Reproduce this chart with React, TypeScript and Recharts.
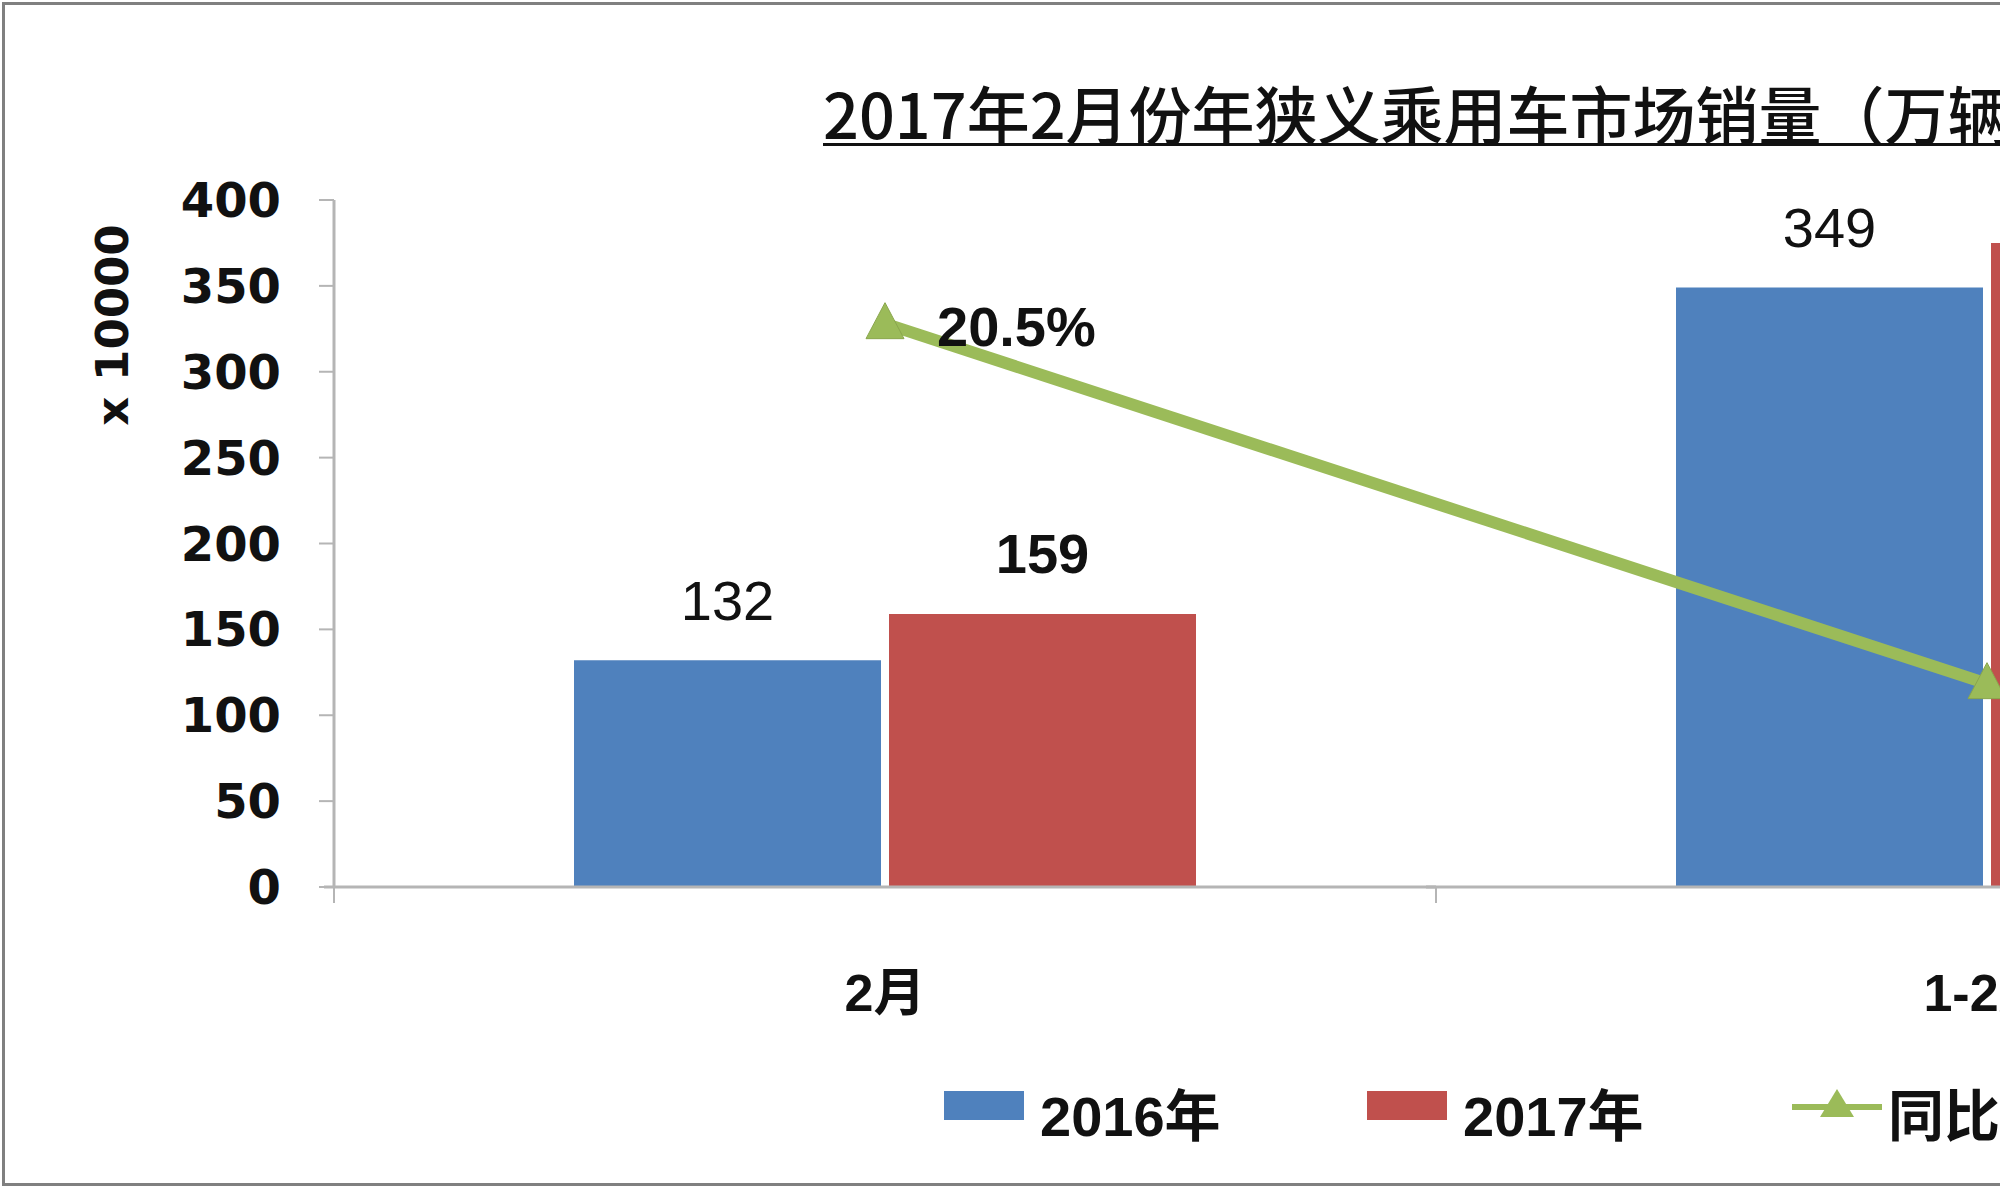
import React from 'react';
import { ComposedChart, Bar, Line, XAxis, YAxis, Legend, LabelList, Label } from 'recharts';

const categories = ['2月', '1-2月'];
const sales2016 = [132, 349];
const sales2017 = [159, 375];
const yoyGrowth = [20.5, 7.4];
const yTicks = [0, 50, 100, 150, 200, 250, 300, 350, 400];
const seriesNames = ['2016年', '2017年', '同比'];
const titleText = '2017年2月份年狭义乘用车市场销量（万辆）';
const yAxisTitle = 'x 10000';

const BLUE = '#4F81BD';
const RED = '#C0504D';
const GREEN = '#9BBB59';
const AXIS = '#b5b5b5';

const data = categories.map((c, i) => ({
  name: c,
  s2016: sales2016[i],
  s2017: sales2017[i],
  yoy: yoyGrowth[i],
}));

const LABEL_FONT = "'Liberation Sans', Arial, sans-serif";
const TICK_FONT = "'DejaVu Sans', Verdana, sans-serif";
const CJK_BOLD = "'Liberation Sans Narrow', 'Liberation Sans', 'Noto Sans CJK SC', sans-serif";

const pick = (props: any) => {
  const vb = props.viewBox || {};
  return {
    x: props.x ?? vb.x,
    y: props.y ?? vb.y,
    w: props.width ?? vb.width ?? 0,
  };
};

const makeBarLabel = (bold: boolean) => (props: any) => {
  const { x, y, w } = pick(props);
  if (x == null || y == null) return null;
  return (
    <text
      x={x + w / 2}
      y={y - 60}
      textAnchor="middle"
      dominantBaseline="central"
      fontFamily={LABEL_FONT}
      fontSize={56}
      fontWeight={bold ? 700 : 400}
      fill="#111"
    >
      {props.value}
    </text>
  );
};

const lineLabel = (props: any) => {
  const { x, y } = pick(props);
  if (x == null || y == null) return null;
  return (
    <text
      x={x + 52}
      y={y + 3}
      textAnchor="start"
      dominantBaseline="central"
      fontFamily={LABEL_FONT}
      fontSize={56}
      fontWeight={700}
      fill="#111"
    >
      {`${props.value}%`}
    </text>
  );
};

const TriangleDot = (props: any) => {
  const { cx, cy } = props;
  if (cx == null || cy == null) return null;
  return (
    <path
      d={`M${cx},${cy - 21} L${cx + 19},${cy + 15} L${cx - 19},${cy + 15} Z`}
      fill={GREEN}
      stroke="#8aa64d"
      strokeWidth={1}
    />
  );
};

const XTick = (props: any) => {
  const { x, y, payload } = props;
  const off = payload && payload.offset ? payload.offset : 0;
  return (
    <g>
      {off ? (
        <g>
          <line x1={x - off} x2={x - off} y1={y} y2={y + 16} stroke={AXIS} strokeWidth={2} />
          <line x1={x + off} x2={x + off} y1={y} y2={y + 16} stroke={AXIS} strokeWidth={2} />
          <line x1={x - off - 10} x2={x - off} y1={y} y2={y} stroke={AXIS} strokeWidth={3} />
        </g>
      ) : null}
      <text
        x={x}
        y={y + 106}
        textAnchor="middle"
        dominantBaseline="central"
        fontFamily={CJK_BOLD}
        fontSize={52}
        fontWeight={700}
        fill="#111"
      >
        {payload.value}
      </text>
    </g>
  );
};

const renderYTitle = (props: any) => {
  const vb = props.viewBox || { x: 0, y: 0 };
  const cx = vb.x + 112;
  const cy = vb.y + 125;
  return (
    <text
      x={cx}
      y={cy}
      transform={`rotate(-90 ${cx} ${cy})`}
      textAnchor="middle"
      dominantBaseline="central"
      fontFamily={TICK_FONT}
      fontSize={45}
      fontWeight={700}
      fill="#111"
    >
      {yAxisTitle}
    </text>
  );
};

const legendTextStyle: React.CSSProperties = {
  position: 'absolute',
  top: 12,
  fontFamily: CJK_BOLD,
  fontSize: 56,
  fontWeight: 700,
  lineHeight: '50px',
  color: '#111',
  whiteSpace: 'nowrap',
};

const renderLegend = () => (
  <div style={{ position: 'relative', width: 1100, height: 70 }}>
    <div style={{ position: 'absolute', left: 0, top: 11, width: 80, height: 29, background: BLUE }} />
    <div style={{ ...legendTextStyle, left: 96 }}>{seriesNames[0]}</div>
    <div style={{ position: 'absolute', left: 423, top: 11, width: 80, height: 29, background: RED }} />
    <div style={{ ...legendTextStyle, left: 519 }}>{seriesNames[1]}</div>
    <svg style={{ position: 'absolute', left: 848, top: 0 }} width={90} height={60}>
      <line x1={0} x2={90} y1={27} y2={27} stroke={GREEN} strokeWidth={6} />
      <path d="M45,9 L62,37 L28,37 Z" fill={GREEN} />
    </svg>
    <div style={{ ...legendTextStyle, left: 944 }}>{seriesNames[2]}</div>
  </div>
);

export default function App() {
  return (
    <div
      style={{
        position: 'absolute',
        left: 0,
        top: 0,
        width: 2000,
        height: 1190,
        overflow: 'hidden',
        background: '#fff',
      }}
    >
      <div
        style={{
          position: 'absolute',
          left: 823,
          top: 80,
          fontFamily: "'Noto Sans CJK SC', sans-serif",
          fontSize: 63,
          fontWeight: 500,
          lineHeight: '63px',
          color: '#111',
          whiteSpace: 'nowrap',
          textDecoration: 'underline',
          textDecorationThickness: '3px',
          textUnderlineOffset: '4px',
          zIndex: 2,
        }}
      >
        {titleText}
      </div>
      <ComposedChart
        width={2700}
        height={1190}
        data={data}
        margin={{ top: 200, right: 162, bottom: 203, left: 0 }}
        barCategoryGap={240}
        barGap={8}
      >
        <XAxis
          dataKey="name"
          xAxisId="x"
          height={100}
          axisLine={{ stroke: AXIS, strokeWidth: 3 }}
          tickLine={false}
          tickSize={0}
          tickMargin={0}
          tick={<XTick />}
          interval={0}
        />
        <YAxis
          yAxisId="left"
          width={334}
          domain={[0, 400]}
          ticks={yTicks}
          interval={0}
          axisLine={{ stroke: AXIS, strokeWidth: 3 }}
          tickLine={{ stroke: AXIS, strokeWidth: 2 }}
          tickSize={15}
          tickMargin={38}
          tick={{ fontFamily: TICK_FONT, fontSize: 48, fontWeight: 700, fill: '#111' }}
        >
          <Label content={renderYTitle} />
        </YAxis>
        <YAxis yAxisId="right" orientation="right" hide domain={[0, 25]} />
        <Bar dataKey="s2016" name={seriesNames[0]} xAxisId="x" yAxisId="left" fill={BLUE} isAnimationActive={false}>
          <LabelList dataKey="s2016" content={makeBarLabel(false)} />
        </Bar>
        <Bar dataKey="s2017" name={seriesNames[1]} xAxisId="x" yAxisId="left" fill={RED} isAnimationActive={false}>
          <LabelList dataKey="s2017" content={makeBarLabel(true)} />
        </Bar>
        <Line
          type="linear"
          dataKey="yoy"
          name={seriesNames[2]}
          xAxisId="x"
          yAxisId="right"
          stroke={GREEN}
          strokeWidth={12}
          dot={(p: any) => <TriangleDot key={`d${p.index}`} {...p} />}
          activeDot={false}
          isAnimationActive={false}
        >
          <LabelList dataKey="yoy" content={lineLabel} />
        </Line>
        <Legend
          layout="horizontal"
          verticalAlign="middle"
          align="center"
          content={renderLegend}
          wrapperStyle={{ position: 'absolute', left: 944, top: 1080, width: 1100, height: 70 }}
        />
      </ComposedChart>
      <div
        style={{
          position: 'absolute',
          left: 2,
          top: 2,
          width: 2800,
          height: 1184,
          boxSizing: 'border-box',
          border: '3px solid #808080',
          pointerEvents: 'none',
          zIndex: 3,
        }}
      />
    </div>
  );
}
